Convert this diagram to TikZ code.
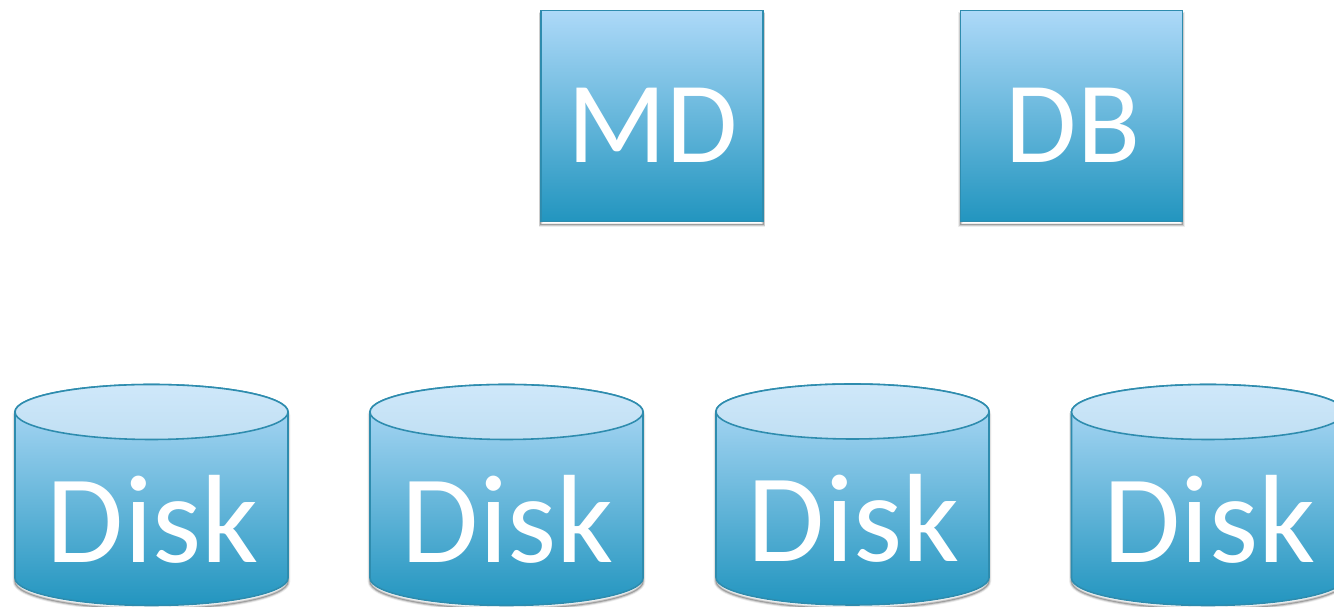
\documentclass[tikz,border=0pt]{standalone}
\usepackage{fontspec}
\setmainfont{Carlito}
\definecolor{edgeblue}{HTML}{2E8CAE}
\definecolor{lightblue}{HTML}{ADD9F8}
\definecolor{deepblue}{HTML}{2295BF}
\definecolor{lidtop}{HTML}{CFE8FA}
\definecolor{lidbottom}{HTML}{C0DFF3}
\tikzstyle{softshadow}=[preaction={draw=black,opacity=0.07,line width=2.6pt,transform canvas={yshift=-2pt}},preaction={draw=black,opacity=0.14,line width=1.6pt,transform canvas={yshift=-2pt}},preaction={draw=black,opacity=0.22,line width=0.6pt,transform canvas={yshift=-2pt}}]
\tikzstyle{block}=[rectangle,draw=edgeblue,line width=0.9pt,top color=lightblue,bottom color=deepblue,minimum width=126.5pt,minimum height=120pt,inner sep=0pt,softshadow]
\tikzstyle{diskbody}=[draw=edgeblue,line width=0.9pt,top color=lightblue!92!white,bottom color=deepblue,softshadow]
\tikzstyle{disklid}=[draw=edgeblue,line width=0.9pt,top color=lidtop,bottom color=lidbottom]
\tikzstyle{blocktext}=[text=white,anchor=base,inner sep=0pt,font=\fontsize{66}{71}\selectfont]
\tikzstyle{disktext}=[text=white,anchor=base,inner sep=0pt,font=\fontsize{71.5}{77}\selectfont]
% one disk: name, centre x of the lid, centre y of the lid
\newcommand{\diskat}[3]{
    \path[diskbody] (#2-136.5,#3) -- (#2-136.5,#3-166) arc (180:360:136.5 and 27.5) -- (#2+136.5,#3) arc (0:180:136.5 and 27.5) -- cycle;
    \path[disklid] (#2,#3) ellipse (136.5 and 27.5);
    \node[disktext] (#1) at (#2+1.5,#3-150.5) {Disk};
}
\begin{document}
\begin{tikzpicture}[x=0.02cm,y=0.02cm]
    \useasboundingbox (0,0) rectangle (1334,607);
    % upper row, y counted from the bottom edge
    \node[block] (md) at (652,491) {};
    \node[block] (db) at (1071.5,491) {};
    \node[blocktext] (mdtext) at (653,444) {MD};
    \node[blocktext] (dbtext) at (1073,444) {DB};
    % lower row
    \diskat{disk1}{151.5}{195}
    \diskat{disk2}{506.5}{195}
    \diskat{disk3}{852.5}{195.5}
    \diskat{disk4}{1208}{195}
\end{tikzpicture}
\end{document}
